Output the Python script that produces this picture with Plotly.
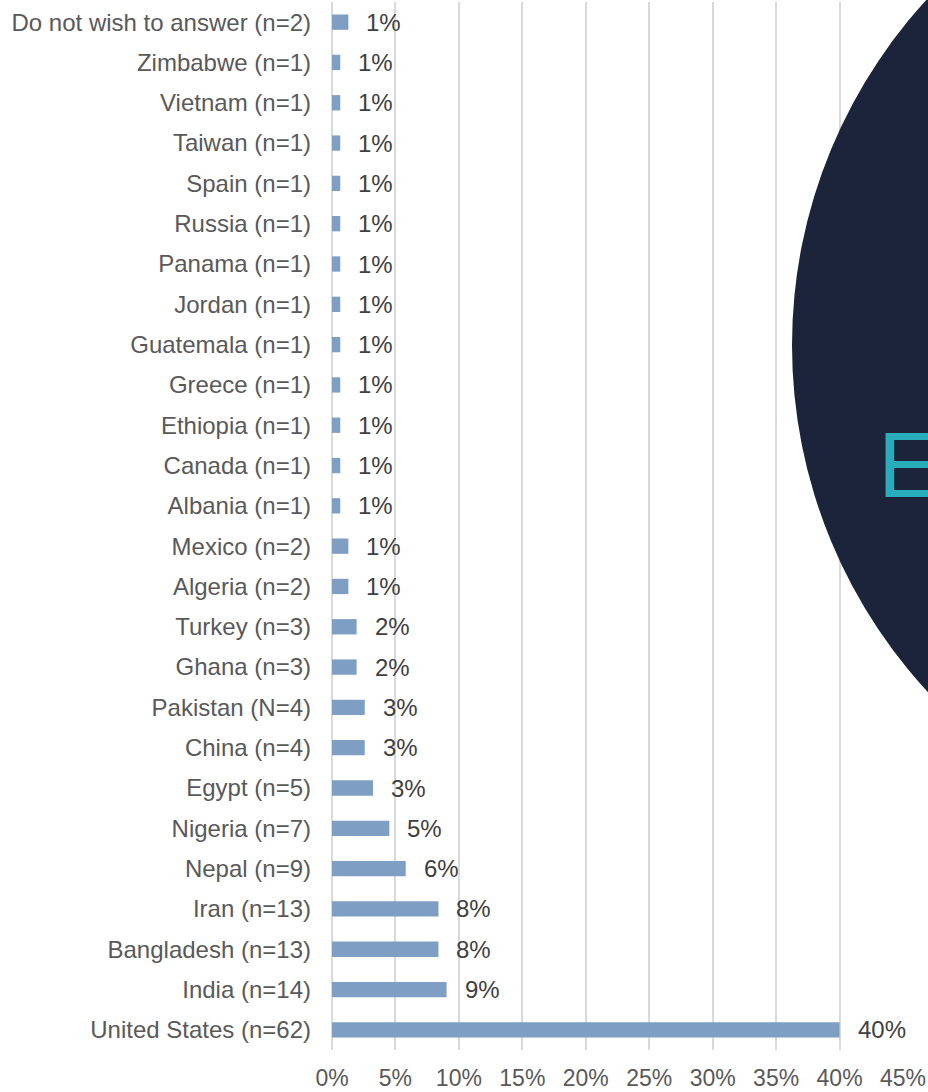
import plotly.graph_objects as go

# Country of origin, top to bottom as shown
countries = [
    "Do not wish to answer (n=2)", "Zimbabwe (n=1)", "Vietnam (n=1)", "Taiwan (n=1)",
    "Spain (n=1)", "Russia (n=1)", "Panama (n=1)", "Jordan (n=1)", "Guatemala (n=1)",
    "Greece (n=1)", "Ethiopia (n=1)", "Canada (n=1)", "Albania (n=1)", "Mexico (n=2)",
    "Algeria (n=2)", "Turkey (n=3)", "Ghana (n=3)", "Pakistan (N=4)", "China (n=4)",
    "Egypt (n=5)", "Nigeria (n=7)", "Nepal (n=9)", "Iran (n=13)", "Bangladesh (n=13)",
    "India (n=14)", "United States (n=62)",
]
share_pct = [
    1.29, 0.65, 0.65, 0.65, 0.65, 0.65, 0.65, 0.65, 0.65, 0.65, 0.65, 0.65, 0.65,
    1.29, 1.29, 1.94, 1.94, 2.58, 2.58, 3.23, 4.52, 5.81, 8.39, 8.39, 9.03, 40.0,
]
value_labels = [
    "1%", "1%", "1%", "1%", "1%", "1%", "1%", "1%", "1%", "1%", "1%", "1%", "1%",
    "1%", "1%", "2%", "2%", "3%", "3%", "3%", "5%", "6%", "8%", "8%", "9%", "40%",
]
x_ticks = [0, 5, 10, 15, 20, 25, 30, 35, 40, 45]
x_tick_text = [f"{t}%" for t in x_ticks]

FONT = "Liberation Sans, Arial, sans-serif"
BAR_COLOR = "#7F9EC4"
GRID = "#D9D9D9"

fig = go.Figure()
fig.add_bar(
    x=share_pct,
    y=countries,
    orientation="h",
    marker=dict(color=BAR_COLOR, line=dict(width=0)),
    hoverinfo="skip",
)

for cat, val, lab in zip(countries, share_pct, value_labels):
    fig.add_annotation(
        x=val, y=cat, text=lab, showarrow=False,
        xanchor="left", xshift=16,
        font=dict(family=FONT, size=24, color="#404040"),
    )

# decorative logo disc at the right edge
fig.add_shape(
    type="circle", xref="paper", yref="paper",
    x0=0.8056, x1=2.595, y0=0.185, y1=1.160,
    fillcolor="#1B243A", line=dict(width=0), layer="above",
)
fig.add_annotation(
    xref="paper", yref="paper", x=0.953, y=0.558,
    text="E", showarrow=False, xanchor="left", yanchor="middle",
    font=dict(family=FONT, size=92, color="#27AEBA"),
)

fig.update_layout(
    width=928,
    height=1092,
    margin=dict(l=332, r=25, t=2, b=42),
    paper_bgcolor="white",
    plot_bgcolor="white",
    showlegend=False,
    bargap=0.62,
    font=dict(family=FONT, size=24, color="#595959"),
    xaxis=dict(
        range=[0, 45],
        tickvals=x_ticks,
        ticktext=x_tick_text,
        showgrid=True,
        gridcolor=GRID,
        gridwidth=2,
        zeroline=True,
        zerolinecolor=GRID,
        zerolinewidth=2,
        showline=False,
        ticks="",
        ticklabelstandoff=12,
        automargin=False,
        tickfont=dict(family=FONT, size=23, color="#595959"),
        fixedrange=True,
    ),
    yaxis=dict(
        categoryorder="array",
        categoryarray=countries,
        autorange="reversed",
        showgrid=False,
        showline=False,
        ticks="",
        ticklabelstandoff=20,
        automargin=False,
        tickfont=dict(family=FONT, size=24, color="#595959"),
        fixedrange=True,
    ),
)

# drop the default page margin so the figure fills the window exactly
fig.write_html(
    "out.html",
    config={"displayModeBar": False},
    post_script="document.body.style.margin='0';document.body.style.overflow='hidden';",
)
